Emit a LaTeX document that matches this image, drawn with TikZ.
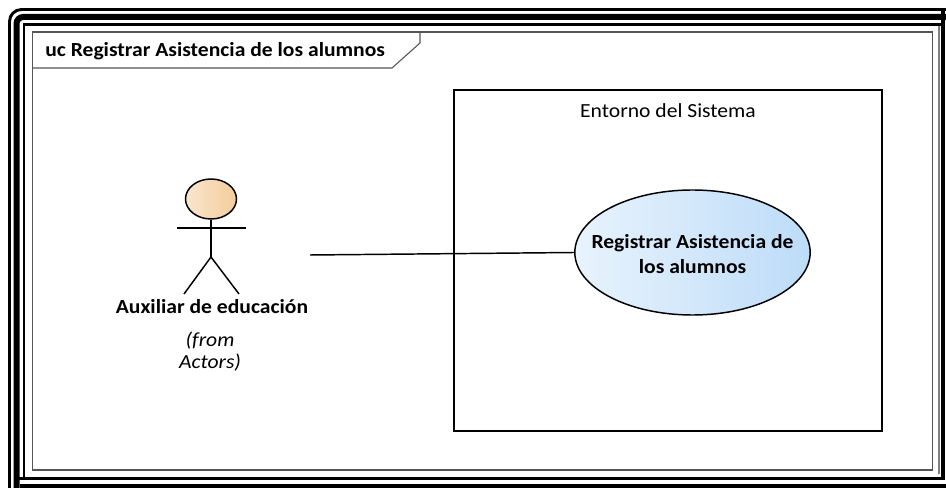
\documentclass[tikz,border=0pt]{standalone}
\usepackage{fontspec}
\setmainfont[FakeStretch=1.08]{Carlito}
\usetikzlibrary{shapes.geometric}
\definecolor{headleft}{HTML}{F9E6CF}
\definecolor{headright}{HTML}{F3CD9B}
\definecolor{caseleft}{HTML}{E8F3FD}
\definecolor{caseright}{HTML}{BDDCF8}
\definecolor{framegray}{HTML}{555555}
\tikzset{
  bold label/.style={font=\fontsize{15}{18}\selectfont\bfseries,align=center,inner sep=0pt},
  plain label/.style={font=\fontsize{15}{16.5}\selectfont,align=center,inner sep=0pt},
  stick/.style={draw=black,line width=1.1pt},
}
\begin{document}
\begin{tikzpicture}[x=0.75pt,y=-0.75pt]
\useasboundingbox (0,0) rectangle (946,488);
\fill[white] (0,0) rectangle (946,488);
\draw[line width=2.2pt,rounded corners=9pt] (9.5,488) -- (9.5,9.5) -- (946,9.5);
\draw[line width=4.5pt,rounded corners=5pt] (16.5,488) |- (946,17);
\draw[line width=2.2pt] (24,478.5) |- (943,24.5);
\draw[line width=2.6pt] (943,9) -- (943,478.5) -- (14,478.5);
\draw[line width=3pt] (20,486) -- (946,486);
\draw[line width=0.8pt,draw=gray] (939,26) -- (939,474);
% frame
\node[draw=framegray,line width=0.8pt,minimum width=675pt,minimum height=328.5pt,inner sep=0pt] (frame) at (482.5,251) {};
\coordinate (tabtop) at (420,32);
\coordinate (tabside) at (420,43);
\coordinate (tabfoot) at (392,68);
\coordinate (tableft) at (33,68);
\draw[draw=framegray,line width=0.8pt] (tabtop)--(tabside)--(tabfoot)--(tableft);
\node[bold label,anchor=west] (title) at (45,51) {uc Registrar Asistencia de los alumnos};
% system
\node[draw=black,line width=1.1pt,minimum width=321pt,minimum height=255.75pt,inner sep=0pt] (system) at (668,260.5) {};
\node[plain label] (systemname) at (668,111) {Entorno del Sistema};
\node[ellipse,draw=black,line width=1.1pt,left color=caseleft,right color=caseright,minimum width=176.5pt,minimum height=93.75pt,inner sep=0pt] (case) at (692.5,252.5) {};
\node[bold label] (casename) at (692.5,243) {Registrar Asistencia de};
\node[bold label] (casename2) at (692.5,267) {los alumnos};
% actor
\node[ellipse,draw=black,line width=1.1pt,left color=headleft,right color=headright,minimum width=38.25pt,minimum height=30pt,inner sep=0pt] (head) at (211,199) {};
\coordinate (armleft) at (177,228);
\coordinate (armright) at (246,228);
\coordinate (hip) at (211,257);
\coordinate (footleft) at (184,294);
\coordinate (footright) at (239,294);
\draw[stick] (armleft)--(armright);
\draw[stick] (head)--(hip);
\draw[stick] (footleft)--(hip)--(footright);
\node[bold label] (actor) at (212,307) {Auxiliar de educación};
\node[plain label,font=\fontsize{15}{16.5}\selectfont\itshape] (from) at (210,352) {(from\\Actors)};
% link
\coordinate (linkstart) at (310,255);
\draw[stick] (linkstart)--(case.west);
\end{tikzpicture}
\end{document}
